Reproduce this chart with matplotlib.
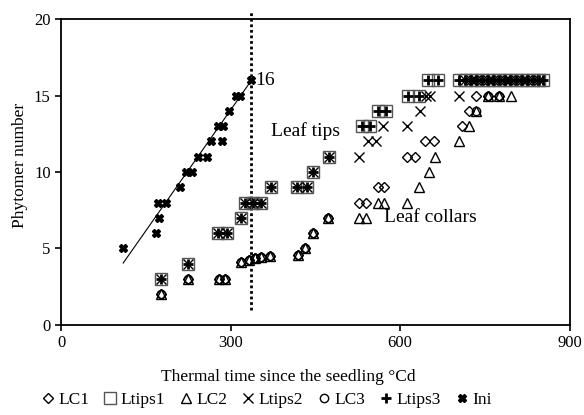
import matplotlib
matplotlib.use("Agg")
import matplotlib.pyplot as plt

plt.rcParams['font.family'] = ['Liberation Serif', 'DejaVu Serif']
plt.rcParams['font.size'] = 12.5

# leaf collars (three plants)
lc1_x = [177, 225, 279, 291, 319, 332, 344, 354, 370, 419, 432, 446, 472,
         528, 539, 560, 572, 612, 626, 644, 660, 709, 721, 735, 756, 775]
lc1_y = [2, 3, 3, 3, 4.1, 4.25, 4.4, 4.45, 4.5, 4.6, 5.0, 6, 7,
         8, 8, 9, 9, 11, 11, 12, 12, 13, 14, 15, 15, 15]
lc2_x = [177, 225, 279, 291, 319, 332, 344, 354, 370, 419, 432, 446, 472,
         528, 539, 560, 572, 612, 633, 651, 661, 705, 721, 735, 756, 775, 796]
lc2_y = [2, 3, 3, 3, 4.1, 4.25, 4.4, 4.45, 4.5, 4.6, 5.0, 6, 7,
         7, 7, 8, 8, 8, 9, 10, 11, 12, 13, 14, 15, 15, 15]
lc3_x = [177, 225, 279, 291, 319, 332, 344, 354, 370, 419, 432, 446, 472,
         735, 756, 775]
lc3_y = [2, 3, 3, 3, 4.1, 4.25, 4.4, 4.45, 4.5, 4.6, 5.0, 6, 7,
         14, 15, 15]

# leaf tips (three plants)
tips_x = [177, 225, 277, 293, 319, 326, 340, 354, 372, 418, 435, 446, 474]
tips_y = [3, 4, 6, 6, 7, 8, 8, 8, 9, 9, 9, 10, 11]
ltips1_x = tips_x + [533, 546, 561, 575, 614, 633, 649, 667,
                     705, 715, 725, 735, 745, 755, 765, 775, 785, 795, 805, 815, 825, 835, 845, 852]
ltips1_y = tips_y + [13, 13, 14, 14, 15, 15, 16, 16] + [16] * 16
ltips2_x = tips_x + [528, 544, 558, 570, 612, 635, 646, 653, 705,
                     715, 725, 735, 745, 755, 765, 775, 785, 795, 805, 815, 825, 835, 845]
ltips2_y = tips_y + [11, 12, 12, 13, 13, 14, 15, 15, 15] + [16] * 14
ltips3_x = ltips1_x
ltips3_y = ltips1_y

# initiated phytomers
ini_x = [110, 168, 174, 172, 186, 210, 221, 231, 243, 258, 266, 284, 278, 286, 297, 310, 317, 337]
ini_y = [5, 6, 7, 8, 8, 9, 10, 10, 11, 11, 12, 12, 13, 13, 14, 15, 15, 16]
ini_fit_x = [110, 337]
ini_fit_y = [4.05, 16.0]
t_final = 337
last_phytomer = 16

fig = plt.figure(figsize=(5.84, 4.15), dpi=100)
ax = fig.add_axes([0.1045, 0.2169, 0.871, 0.7373])

ax.plot(ini_fit_x, ini_fit_y, color='black', lw=0.8, zorder=2)
ax.plot([t_final, t_final], [1, 20.6], color='black', lw=2, ls=(0, (1, 1)),
        clip_on=False, zorder=2)

open_style = dict(ls='none', mfc='none', mew=1.0, zorder=3)
ax.plot(ltips1_x, ltips1_y, marker='s', ms=8, mec='#555555', label='Ltips1', **open_style)
ax.plot(lc1_x, lc1_y, marker='D', ms=5, mec='black', label='LC1', **open_style)
ax.plot(lc2_x, lc2_y, marker='^', ms=7, mec='black', label='LC2', **open_style)
ax.plot(lc3_x, lc3_y, marker='o', ms=6, mec='black', label='LC3', **open_style)
ax.plot(ltips2_x, ltips2_y, marker='x', ms=7, mec='black', label='Ltips2', **open_style)
ax.plot(ltips3_x, ltips3_y, marker='+', ms=7, mec='black', mew=2, ls='none', label='Ltips3', zorder=4)
ax.plot(ini_x, ini_y, marker='X', ms=6, mfc='black', mec='black', ls='none', label='Ini', zorder=4)

ax.text(t_final + 7, last_phytomer, str(last_phytomer), fontsize=14, va='center')
ax.text(372, 12.7, 'Leaf tips', fontsize=14, va='center')
ax.text(572, 7.0, 'Leaf collars', fontsize=14, va='center')

ax.set_xlim(0, 900)
ax.set_ylim(0, 20)
ax.set_xticks([0, 300, 600, 900])
ax.set_yticks([0, 5, 10, 15, 20])
ax.tick_params(direction='out', length=4, width=1.2, labelsize=12)
for s in ax.spines.values():
    s.set_linewidth(1.3)

ax.set_xlabel('Thermal time since the seedling °Cd', fontsize=12.5)
ax.xaxis.set_label_coords(0.446, -0.145)
ax.set_ylabel('Phytomer number', fontsize=12.5)
ax.yaxis.set_label_coords(-0.065, 0.52)

handles, labels = ax.get_legend_handles_labels()
order = ['LC1', 'Ltips1', 'LC2', 'Ltips2', 'LC3', 'Ltips3', 'Ini']
h = [handles[labels.index(k)] for k in order]
fig.legend(h, order, loc='center', bbox_to_anchor=(0.455, 0.036), ncol=7,
           frameon=False, handletextpad=0.1, columnspacing=0.7, handlelength=1,
           fontsize=12.5)

fig.savefig('out.png', dpi=100)
